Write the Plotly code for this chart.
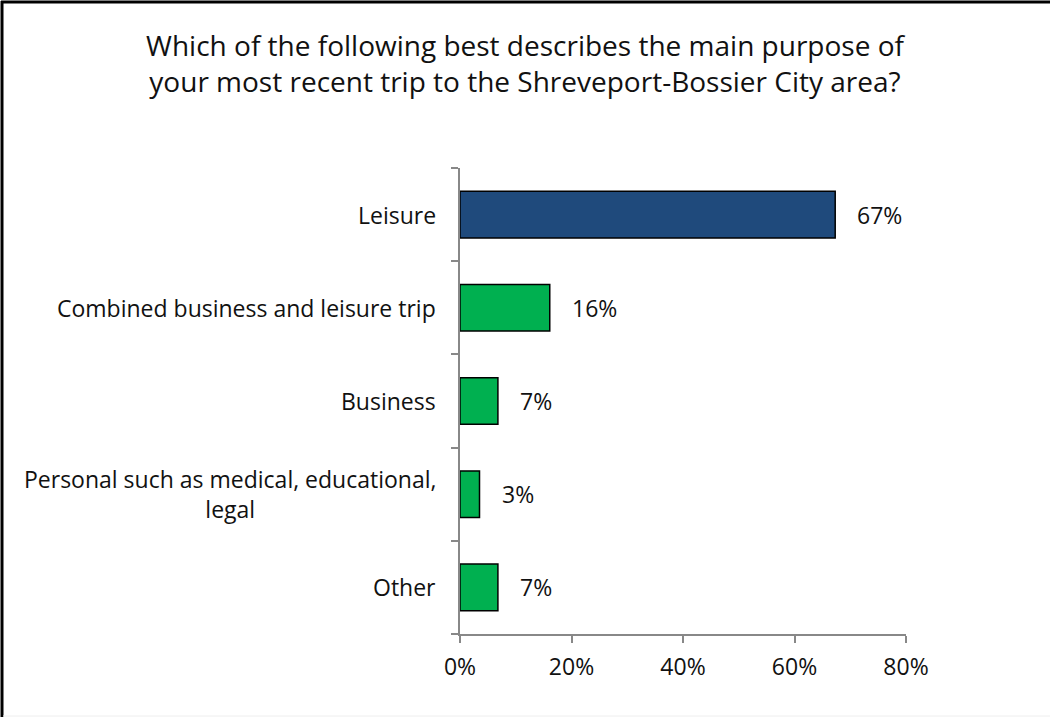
import plotly.graph_objects as go

title_lines = ["Which of the following best describes the main purpose of",
               "your most recent trip to the Shreveport-Bossier City area?"]
categories = ["Leisure",
              "Combined business and leisure trip",
              "Business",
              "Personal such as medical, educational,<br>legal",
              "Other"]
values = [67.3, 16.1, 6.8, 3.5, 6.8]
value_labels = ["67%", "16%", "7%", "3%", "7%"]
bar_colors = ["#1F4A7C", "#00B050", "#00B050", "#00B050", "#00B050"]
x_ticks = [0, 20, 40, 60, 80]

FONT = "'Open Sans', Lato, sans-serif"
positions = list(range(len(categories)))

fig = go.Figure()
fig.add_trace(go.Bar(
    x=values, y=positions, orientation="h",
    marker=dict(color=bar_colors, line=dict(color="#000000", width=1.5)),
    width=0.5, hoverinfo="skip", showlegend=False,
))

annotations = []
for p, c in zip(positions, categories):
    annotations.append(dict(x=0, xref="paper", y=p, yref="y", text=c,
                            showarrow=False, xanchor="right", yanchor="middle",
                            align="center", xshift=-22,
                            font=dict(family=FONT, size=23, color="#111111")))
for p, v, t in zip(positions, values, value_labels):
    annotations.append(dict(x=v, xref="x", y=p, yref="y", text=t,
                            showarrow=False, xanchor="left", yanchor="middle",
                            xshift=20,
                            font=dict(family=FONT, size=23, color="#111111")))

border = dict(color="#000000", width=3)
fig.update_layout(
    width=1050, height=717,
    paper_bgcolor="white", plot_bgcolor="white",
    margin=dict(l=460, r=144, t=168, b=83, pad=0),
    title=dict(text="<br>".join(title_lines), x=0.5, xanchor="center",
               y=0.922, yanchor="middle",
               font=dict(family=FONT, size=28, color="#111111")),
    xaxis=dict(range=[0, 80], tickvals=x_ticks,
               ticktext=[f"{t}%" for t in x_ticks],
               showgrid=False, zeroline=False,
               showline=True, linecolor="#888888", linewidth=2,
               ticks="outside", ticklen=7, tickcolor="#888888", tickwidth=2,
               ticklabelstandoff=4,
               tickfont=dict(family=FONT, size=23, color="#111111")),
    yaxis=dict(range=[len(categories) - 0.5, -0.5],
               tickvals=[i - 0.5 for i in range(len(categories) + 1)],
               showticklabels=False, showgrid=False, zeroline=False,
               showline=True, linecolor="#888888", linewidth=2,
               ticks="outside", ticklen=7, tickcolor="#888888", tickwidth=2),
    annotations=annotations,
    shapes=[
        dict(type="line", xref="paper", yref="paper",
             xsizemode="pixel", ysizemode="pixel", xanchor=0, yanchor=0,
             x0=-458, x1=-458, y0=-83, y1=633, line=border, layer="above"),
        dict(type="line", xref="paper", yref="paper",
             xsizemode="pixel", ysizemode="pixel", xanchor=0, yanchor=0,
             x0=-459, x1=590, y0=632, y1=632, line=border, layer="above"),
        dict(type="line", xref="paper", yref="paper",
             xsizemode="pixel", ysizemode="pixel", xanchor=0, yanchor=0,
             x0=-457, x1=590, y0=-82, y1=-82,
             line=dict(color="#EEEEEE", width=1), layer="above"),
    ],
)

fig.write_html("out.html",
               config={"displayModeBar": False},
               post_script="document.body.style.margin='0px';")
